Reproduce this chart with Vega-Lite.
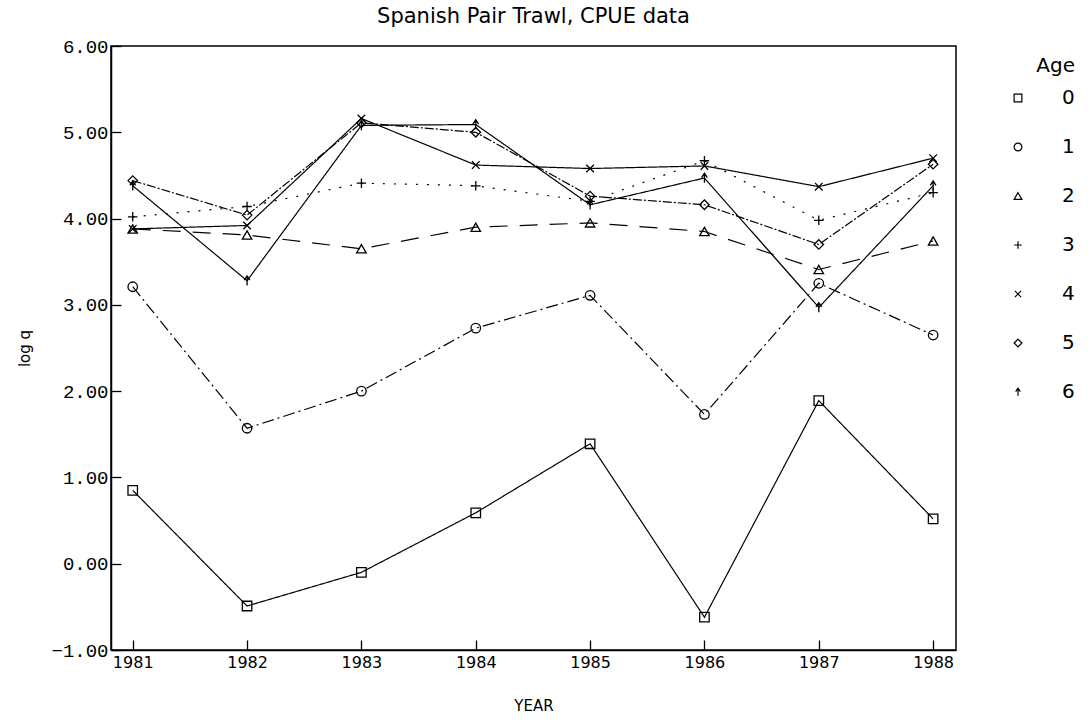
{
  "$schema": "https://vega.github.io/schema/vega-lite/v6.json",
  "width": 845,
  "height": 604,
  "autosize": "none",
  "padding": {"left": 111, "top": 46, "right": 136, "bottom": 73},
  "background": "white",
  "title": {"text": "Spanish Pair Trawl, CPUE data", "fontSize": 21, "font": "DejaVu Sans", "fontWeight": "normal", "offset": 10, "anchor": "middle", "color": "black"},
  "config": {
    "view": {"stroke": "black", "strokeWidth": 1.5},
    "axis": {"grid": false, "domainColor": "black", "tickColor": "black", "labelColor": "black", "titleColor": "black", "domainWidth": 1.5, "tickWidth": 1.3}
  },
  "data": {"values": [
    {"Year": 1981, "Age": "0", "logq": 0.85}, {"Year": 1982, "Age": "0", "logq": -0.49}, {"Year": 1983, "Age": "0", "logq": -0.10}, {"Year": 1984, "Age": "0", "logq": 0.59},
    {"Year": 1985, "Age": "0", "logq": 1.39}, {"Year": 1986, "Age": "0", "logq": -0.62}, {"Year": 1987, "Age": "0", "logq": 1.89}, {"Year": 1988, "Age": "0", "logq": 0.52},
    {"Year": 1981, "Age": "1", "logq": 3.21}, {"Year": 1982, "Age": "1", "logq": 1.57}, {"Year": 1983, "Age": "1", "logq": 2.00}, {"Year": 1984, "Age": "1", "logq": 2.73},
    {"Year": 1985, "Age": "1", "logq": 3.11}, {"Year": 1986, "Age": "1", "logq": 1.73}, {"Year": 1987, "Age": "1", "logq": 3.25}, {"Year": 1988, "Age": "1", "logq": 2.65},
    {"Year": 1981, "Age": "2", "logq": 3.88}, {"Year": 1982, "Age": "2", "logq": 3.81}, {"Year": 1983, "Age": "2", "logq": 3.65}, {"Year": 1984, "Age": "2", "logq": 3.90},
    {"Year": 1985, "Age": "2", "logq": 3.95}, {"Year": 1986, "Age": "2", "logq": 3.85}, {"Year": 1987, "Age": "2", "logq": 3.41}, {"Year": 1988, "Age": "2", "logq": 3.74},
    {"Year": 1981, "Age": "3", "logq": 4.02}, {"Year": 1982, "Age": "3", "logq": 4.14}, {"Year": 1983, "Age": "3", "logq": 4.41}, {"Year": 1984, "Age": "3", "logq": 4.38},
    {"Year": 1985, "Age": "3", "logq": 4.20}, {"Year": 1986, "Age": "3", "logq": 4.67}, {"Year": 1987, "Age": "3", "logq": 3.98}, {"Year": 1988, "Age": "3", "logq": 4.30},
    {"Year": 1981, "Age": "4", "logq": 3.88}, {"Year": 1982, "Age": "4", "logq": 3.92}, {"Year": 1983, "Age": "4", "logq": 5.16}, {"Year": 1984, "Age": "4", "logq": 4.62},
    {"Year": 1985, "Age": "4", "logq": 4.58}, {"Year": 1986, "Age": "4", "logq": 4.61}, {"Year": 1987, "Age": "4", "logq": 4.37}, {"Year": 1988, "Age": "4", "logq": 4.70},
    {"Year": 1981, "Age": "5", "logq": 4.44}, {"Year": 1982, "Age": "5", "logq": 4.04}, {"Year": 1983, "Age": "5", "logq": 5.11}, {"Year": 1984, "Age": "5", "logq": 5.00},
    {"Year": 1985, "Age": "5", "logq": 4.26}, {"Year": 1986, "Age": "5", "logq": 4.16}, {"Year": 1987, "Age": "5", "logq": 3.70}, {"Year": 1988, "Age": "5", "logq": 4.63},
    {"Year": 1981, "Age": "6", "logq": 4.38}, {"Year": 1982, "Age": "6", "logq": 3.28}, {"Year": 1983, "Age": "6", "logq": 5.08}, {"Year": 1984, "Age": "6", "logq": 5.09},
    {"Year": 1985, "Age": "6", "logq": 4.16}, {"Year": 1986, "Age": "6", "logq": 4.47}, {"Year": 1987, "Age": "6", "logq": 2.97}, {"Year": 1988, "Age": "6", "logq": 4.38}
  ]},
  "resolve": {"legend": {"strokeDash": "independent", "shape": "independent"}},
  "encoding": {
    "x": {"field": "Year", "type": "quantitative",
      "scale": {"domain": [1980.81, 1988.2], "nice": false, "zero": false},
      "axis": {"values": [1981, 1982, 1983, 1984, 1985, 1986, 1987, 1988], "format": "d", "tickSize": -10, "labelPadding": 14,
        "labelFont": "DejaVu Sans", "labelFontSize": 16, "title": "YEAR", "titleFont": "DejaVu Sans", "titleFontSize": 15, "titleFontWeight": "normal", "titlePadding": 28}},
    "y": {"field": "logq", "type": "quantitative",
      "scale": {"domain": [-1, 6], "nice": false, "zero": false},
      "axis": {"values": [-1, 0, 1, 2, 3, 4, 5, 6], "format": ".2f", "tickSize": -10, "labelPadding": 13,
        "labelFont": "Liberation Mono", "labelFontSize": 19, "title": "log q", "titleFont": "DejaVu Sans", "titleFontSize": 15, "titleFontWeight": "normal", "titlePadding": 18}}
  },
  "layer": [
    {
      "mark": {"type": "line", "color": "black", "strokeWidth": 1.2},
      "encoding": {
        "detail": {"field": "Age", "type": "nominal"},
        "strokeDash": {"field": "Age", "type": "nominal", "legend": null,
          "scale": {"domain": ["0", "1", "2", "3", "4", "5", "6"],
            "range": [[1, 0], [12, 4, 2, 4], [18, 12], [2, 9], [1, 0], [9, 2, 2, 2], [1, 0]]}}
      }
    },
    {
      "mark": {"type": "point", "filled": false, "color": "black", "size": 90, "strokeWidth": 1.3, "opacity": 1},
      "encoding": {
        "shape": {"field": "Age", "type": "nominal",
          "scale": {"domain": ["0", "1", "2", "3", "4", "5", "6"],
            "range": ["square", "circle", "triangle-up", "M-1,0H1M0,-1V1", "M-0.8,-0.8L0.8,0.8M-0.8,0.8L0.8,-0.8", "diamond", "M0,1V-1M-0.6,-0.1L0,-1L0.6,-0.1"]},
          "legend": {"orient": "none", "legendX": 897, "legendY": 10, "title": "Age", "titleFont": "DejaVu Sans", "titleFontSize": 20, "titleFontWeight": "normal", "titleColor": "black",
            "titleAnchor": "end", "titlePadding": 12, "labelFont": "DejaVu Sans", "labelFontSize": 20, "labelColor": "black", "labelOffset": 34,
            "symbolSize": 60, "symbolStrokeColor": "black", "symbolFillColor": "white", "symbolStrokeWidth": 1.2, "rowPadding": 29, "padding": 0}}
      }
    }
  ]
}
